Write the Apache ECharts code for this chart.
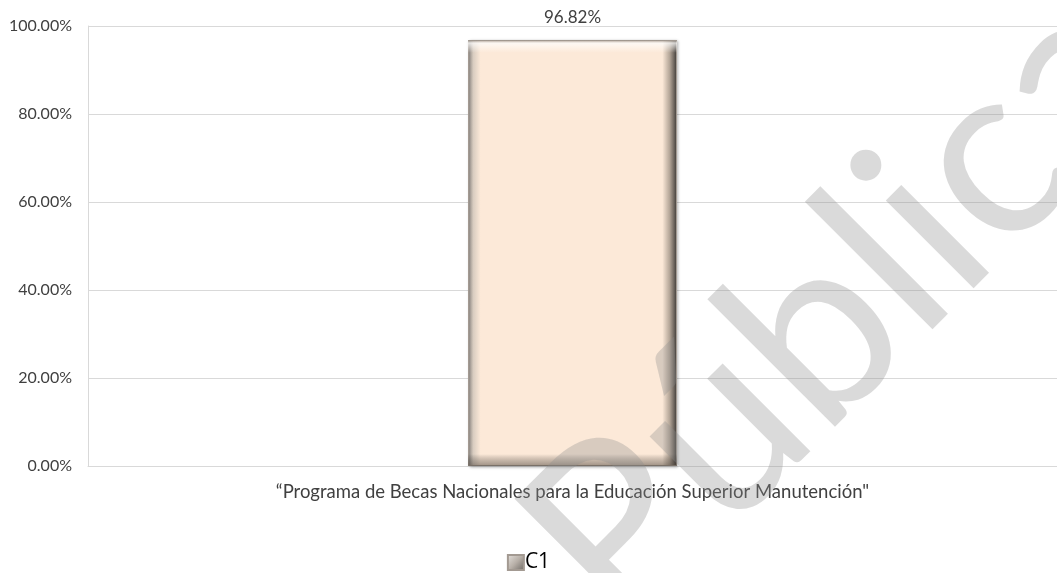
<!DOCTYPE html>
<html>
<head>
<meta charset="utf-8">
<script src="https://cdn.jsdelivr.net/npm/echarts@6/dist/echarts.min.js"></script>
<style>html,body{margin:0;padding:0;background:#fff;}#c{width:1057px;height:573px;}</style>
</head>
<body>
<div id="c"></div>
<script>
var categories = ['\u201cPrograma de Becas Nacionales para la Educaci\u00f3n Superior Manutenci\u00f3n"'];
var seriesName = 'C1';
var values = [96.82];
var yTicks = [0, 20, 40, 60, 80, 100];

var chart = echarts.init(document.getElementById('c'));
var barGrad = new echarts.graphic.LinearGradient(0, 0, 1, 0, [
  {offset: 0, color: '#8f8a86'},
  {offset: 0.025, color: '#d8ccc0'},
  {offset: 0.06, color: '#fce9d8'},
  {offset: 0.93, color: '#fce9d8'},
  {offset: 0.965, color: '#b3a597'},
  {offset: 1, color: '#3e3a37'}
]);
var bevelGrad = new echarts.graphic.LinearGradient(0, 0, 0, 1, [
  {offset: 0, color: 'rgba(140,130,120,0.6)'},
  {offset: 0.007, color: 'rgba(255,255,255,0.75)'},
  {offset: 0.03, color: 'rgba(255,255,255,0)'},
  {offset: 0.972, color: 'rgba(0,0,0,0)'},
  {offset: 1, color: 'rgba(80,70,60,0.5)'}
]);
var legendGrad = new echarts.graphic.LinearGradient(0, 0, 1, 1, [
  {offset: 0, color: '#e8e4e0'},
  {offset: 0.5, color: '#b8b0a8'},
  {offset: 1, color: '#6a6560'}
]);
chart.setOption({
  animation: false,
  grid: {left: 88, right: 0, top: 26, bottom: 107},
  legend: {
    top: 547, left: 'center',
    itemWidth: 16, itemHeight: 15, itemGap: 4,
    icon: 'rect',
    textStyle: {fontFamily: 'Open Sans', fontSize: 21, color: '#000', padding: [0,0,0,-4]},
    data: [{name: seriesName, itemStyle: {color: legendGrad}}]
  },
  xAxis: {
    type: 'category', data: categories,
    axisLine: {lineStyle: {color: '#d9d9d9', width: 1}},
    axisTick: {show: false},
    axisLabel: {fontFamily: 'Lato', fontSize: 18.5, color: '#404040', margin: 17}
  },
  yAxis: {
    type: 'value', min: 0, max: 100, interval: 20,
    axisLine: {show: true, lineStyle: {color: '#d9d9d9'}},
    axisTick: {show: false},
    splitLine: {lineStyle: {color: '#d9d9d9', width: 1}},
    axisLabel: {
      fontFamily: 'Lato', fontSize: 16, color: '#404040', margin: 16,
      formatter: function (v) { return v.toFixed(2) + '%'; }
    }
  },
  series: [{
    name: seriesName, type: 'bar', data: values, barWidth: 209,
    itemStyle: {color: barGrad, borderColor: '#a39a92', borderWidth: 1,
      shadowColor: 'rgba(0,0,0,0.25)', shadowBlur: 3, shadowOffsetX: 1, shadowOffsetY: 1},
    label: {show: true, position: 'top', distance: 14,
      fontFamily: 'Lato', fontSize: 17, color: '#404040',
      formatter: function (p) { return p.value.toFixed(2) + '%'; }}
  }, {
    name: 'bevel', type: 'bar', data: values, barWidth: 209, barGap: '-100%',
    silent: true, itemStyle: {color: bevelGrad}
  }],
  graphic: [{
    type: 'text', z: 100, silent: true,
    x: 567, y: 583, rotation: Math.PI / 4,
    style: {text: 'P\u00fablica', fontFamily: 'Lato', fontSize: 245, fontWeight: 'normal',
      fill: 'rgba(140,140,140,0.32)', align: 'left', verticalAlign: 'middle'}
  }]
});
</script>
</body>
</html>
